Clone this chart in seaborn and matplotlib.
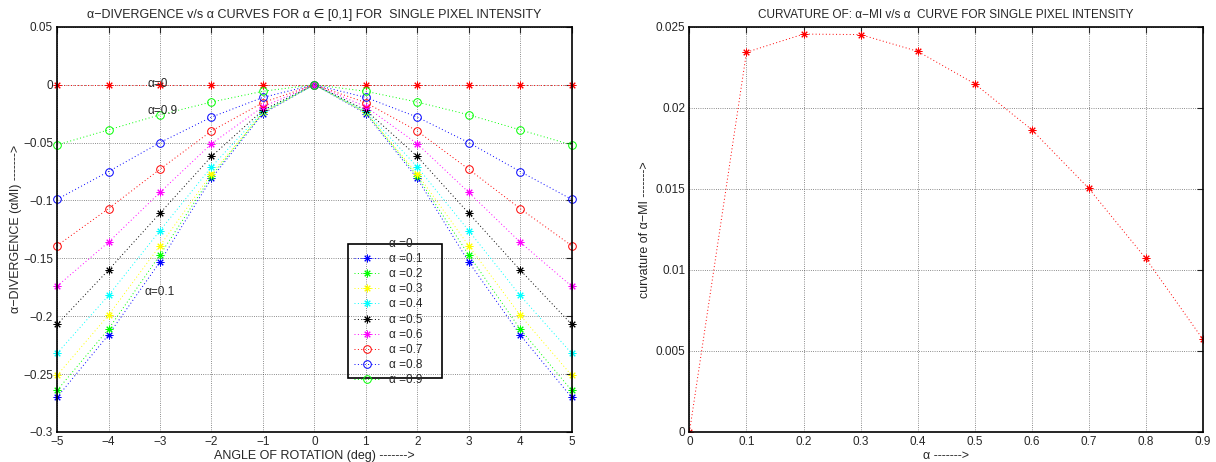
import numpy as np
import pandas as pd
import seaborn as sns
import matplotlib.pyplot as plt
from matplotlib.patches import Rectangle
from matplotlib.ticker import FuncFormatter

# Data
angles = [-5, -4, -3, -2, -1, 0, 1, 2, 3, 4, 5]
alpha_levels = [0, 0.1, 0.2, 0.3, 0.4, 0.5, 0.6, 0.7, 0.8, 0.9]

# divergence at |angle| = 0,1,2,3,4,5 (curves are symmetric about 0)
half_div = {
    0.0: [0, 0, 0, 0, 0, 0],
    0.1: [0, -0.025, -0.081, -0.153, -0.216, -0.270],
    0.2: [0, -0.024, -0.079, -0.147, -0.211, -0.264],
    0.3: [0, -0.024, -0.077, -0.139, -0.199, -0.251],
    0.4: [0, -0.023, -0.071, -0.126, -0.182, -0.232],
    0.5: [0, -0.022, -0.062, -0.111, -0.160, -0.207],
    0.6: [0, -0.019, -0.051, -0.093, -0.136, -0.174],
    0.7: [0, -0.0155, -0.040, -0.073, -0.107, -0.139],
    0.8: [0, -0.011, -0.028, -0.050, -0.075, -0.099],
    0.9: [0, -0.0057, -0.015, -0.026, -0.039, -0.052],
}

curv_alpha = [0, 0.1, 0.2, 0.3, 0.4, 0.5, 0.6, 0.7, 0.8, 0.9]
curvature = [0, 0.02343, 0.02455, 0.02452, 0.02349, 0.02149, 0.01866, 0.01504, 0.01072, 0.00574]

colors = ["red", "blue", "lime", "yellow", "cyan", "black", "magenta", "red", "blue", "lime"]
asterisk = (8, 2, 0)
markers = [asterisk] * 7 + ["o"] * 3

sns.set_style("white")
plt.rcParams["font.family"] = ["Liberation Sans", "DejaVu Sans"]
plt.rcParams["font.size"] = 8
plt.rcParams["axes.unicode_minus"] = True

fig = plt.figure(figsize=(12.16, 4.62), dpi=100)
ax1 = fig.add_axes([0.047, 0.065, 0.423, 0.877])
ax2 = fig.add_axes([0.567, 0.065, 0.422, 0.877])


def matlab_fmt(v, pos):
    v = round(v, 4) + 0.0
    return ("%g" % v).replace("-", "\u2212")


fmt = FuncFormatter(matlab_fmt)

# ---- left: divergence curves ----
handles = []
for a, c, m in zip(alpha_levels, colors, markers):
    h = half_div[a]
    vals = h[::-1] + h[1:]
    df = pd.DataFrame({"angle": angles, "div": vals})
    sns.lineplot(data=df, x="angle", y="div", ax=ax1, color=c, marker=m,
                 linewidth=0.7, markersize=5.5, mec=c, mfc="none",
                 mew=0.7, clip_on=False)
    ax1.lines[-1].set_dashes((1, 2.5))
    handles.append(ax1.lines[-1])

ax1.set_xlim(-5, 5)
ax1.set_ylim(-0.3, 0.05)
ax1.set_xticks(range(-5, 6))
ax1.set_yticks(np.arange(-0.3, 0.051, 0.05))
ax1.xaxis.set_major_formatter(fmt)
ax1.yaxis.set_major_formatter(fmt)
ax1.set_title("\u03b1\u2212DIVERGENCE v/s \u03b1 CURVES FOR \u03b1 \u2208 [0,1] FOR  SINGLE PIXEL INTENSITY",
              fontsize=9, pad=6)
ax1.set_xlabel("ANGLE OF ROTATION (deg) ------->", fontsize=9, labelpad=1)
ax1.set_ylabel("\u03b1\u2212DIVERGENCE (\u03b1MI) ------->", fontsize=9, labelpad=1)

ax1.text(-3.25, 0.001, "\u03b1=0", fontsize=8.5, va="center")
ax1.text(-3.25, -0.023, "\u03b1=0.9", fontsize=8.5, va="center")
ax1.text(-3.3, -0.179, "\u03b1=0.1", fontsize=8.5, va="center")

labels = ["\u03b1 =%g" % a for a in alpha_levels]
leg = ax1.legend(handles, labels, loc="upper left", bbox_to_anchor=(0.565, 0.494),
                 frameon=False, fontsize=8.5, labelspacing=0.27, handlelength=2.2,
                 handletextpad=0.8, borderpad=0)
leg.legend_handles[0].set_visible(False)
ax1.add_patch(Rectangle((0.565, 0.133), 0.183, 0.33, transform=ax1.transAxes,
                        fill=False, edgecolor="black", linewidth=1.2, zorder=5))

# ---- right: curvature ----
df2 = pd.DataFrame({"alpha": curv_alpha, "curv": curvature})
sns.lineplot(data=df2, x="alpha", y="curv", ax=ax2, color="red", marker=asterisk,
             linewidth=0.7, markersize=5.5, mec="red", mew=0.7)
ax2.lines[-1].set_dashes((1, 2.5))
ax2.set_xlim(0, 0.9)
ax2.set_ylim(0, 0.025)
ax2.set_xticks(curv_alpha)
ax2.set_yticks(np.arange(0, 0.0251, 0.005))
ax2.xaxis.set_major_formatter(fmt)
ax2.yaxis.set_major_formatter(fmt)
ax2.set_title("CURVATURE OF: \u03b1\u2212MI v/s \u03b1  CURVE FOR SINGLE PIXEL INTENSITY",
              fontsize=8.5, pad=6)
ax2.set_xlabel("\u03b1 ------->", fontsize=9, labelpad=1)
ax2.set_ylabel("curvature of \u03b1\u2212MI ------->", fontsize=9, labelpad=3)

for ax in (ax1, ax2):
    ax.grid(True, linestyle=":", color="black", linewidth=0.6, alpha=0.6)
    ax.tick_params(direction="in", length=4, width=0.8, top=True, right=True,
                   labelsize=8.5, pad=3)
    for s in ax.spines.values():
        s.set_color("black")
        s.set_linewidth(1.2)

fig.savefig("out.png", dpi=100)
